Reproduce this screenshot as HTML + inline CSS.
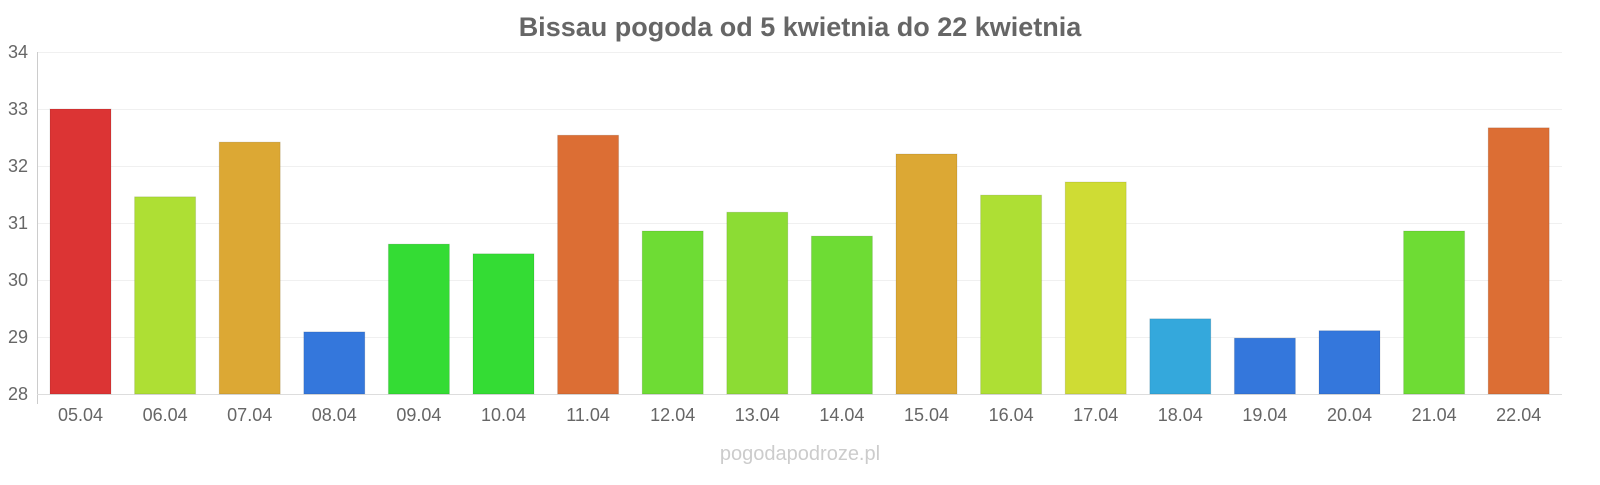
<!DOCTYPE html>
<html><head><meta charset="utf-8"><style>
body{margin:0;background:#fff;}
svg text{font-family:"Liberation Sans",sans-serif;}
</style></head><body>
<svg width="1600" height="480" xmlns="http://www.w3.org/2000/svg">
<rect width="1600" height="480" fill="#fff"/>
<text x="800" y="36" text-anchor="middle" font-size="27" font-weight="bold" fill="#666">Bissau pogoda od 5 kwietnia do 22 kwietnia</text>
<g stroke="#f0f0f0" stroke-width="1">
<line x1="38" x2="1562" y1="52.5" y2="52.5"/>
<line x1="38" x2="1562" y1="109.5" y2="109.5"/>
<line x1="38" x2="1562" y1="166.5" y2="166.5"/>
<line x1="38" x2="1562" y1="223.5" y2="223.5"/>
<line x1="38" x2="1562" y1="280.5" y2="280.5"/>
<line x1="38" x2="1562" y1="337.5" y2="337.5"/>
</g>
<line x1="37.5" x2="37.5" y1="52" y2="404" stroke="#ccc"/>
<line x1="37" x2="1562" y1="394.5" y2="394.5" stroke="#ddd"/>
<g font-size="18" fill="#666" text-anchor="end">
<text x="28" y="58">34</text><text x="28" y="115">33</text><text x="28" y="172">32</text>
<text x="28" y="229">31</text><text x="28" y="286">30</text><text x="28" y="343">29</text><text x="28" y="400">28</text>
</g>
<g stroke="rgba(0,0,0,0.1)">
<rect x="50" y="109" width="61" height="285" fill="#dc3434"/>
<rect x="134.6" y="196.8" width="61" height="197.2" fill="#aedf34"/>
<rect x="219.2" y="142.1" width="61" height="251.9" fill="#dca834"/>
<rect x="303.8" y="331.9" width="61" height="62.1" fill="#3477dc"/>
<rect x="388.4" y="244.1" width="61" height="149.9" fill="#34dc34"/>
<rect x="473" y="253.8" width="61" height="140.2" fill="#34dc34"/>
<rect x="557.6" y="135.2" width="61" height="258.8" fill="#dc6e34"/>
<rect x="642.2" y="231" width="61" height="163" fill="#6edc34"/>
<rect x="726.8" y="212.2" width="61" height="181.8" fill="#8cdc34"/>
<rect x="811.4" y="236.1" width="61" height="157.9" fill="#6edc34"/>
<rect x="896" y="154" width="61" height="240" fill="#dca834"/>
<rect x="980.6" y="195.1" width="61" height="198.9" fill="#aedf34"/>
<rect x="1065.2" y="182" width="61" height="212" fill="#cfdc34"/>
<rect x="1149.8" y="318.8" width="61" height="75.2" fill="#34a8dc"/>
<rect x="1234.4" y="338.1" width="61" height="55.9" fill="#3477dc"/>
<rect x="1319" y="330.7" width="61" height="63.3" fill="#3477dc"/>
<rect x="1403.6" y="231" width="61" height="163" fill="#6edc34"/>
<rect x="1488.2" y="127.8" width="61" height="266.2" fill="#dc6e34"/>
</g>
<g font-size="18" fill="#666" text-anchor="middle">
<text x="80.5" y="421">05.04</text>
<text x="165.1" y="421">06.04</text>
<text x="249.7" y="421">07.04</text>
<text x="334.3" y="421">08.04</text>
<text x="418.9" y="421">09.04</text>
<text x="503.5" y="421">10.04</text>
<text x="588.1" y="421">11.04</text>
<text x="672.7" y="421">12.04</text>
<text x="757.3" y="421">13.04</text>
<text x="841.9" y="421">14.04</text>
<text x="926.5" y="421">15.04</text>
<text x="1011.1" y="421">16.04</text>
<text x="1095.7" y="421">17.04</text>
<text x="1180.3" y="421">18.04</text>
<text x="1264.9" y="421">19.04</text>
<text x="1349.5" y="421">20.04</text>
<text x="1434.1" y="421">21.04</text>
<text x="1518.7" y="421">22.04</text>
</g>
<text x="800" y="460" text-anchor="middle" font-size="20" fill="#ccc">pogodapodroze.pl</text>
</svg>
</body></html>
